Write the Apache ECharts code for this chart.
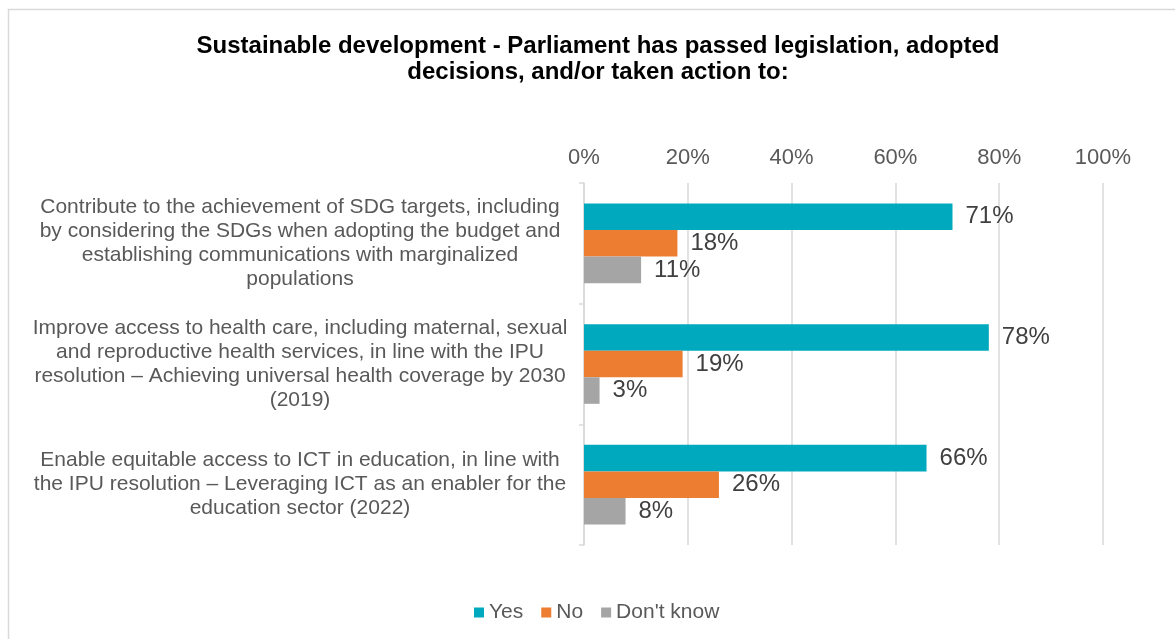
<!DOCTYPE html>
<html>
<head>
<meta charset="utf-8">
<style>
  html, body { margin: 0; padding: 0; background: #ffffff; }
  #chart { width: 1175px; height: 639px; }
</style>
<script src="https://cdn.jsdelivr.net/npm/echarts@6/dist/echarts.min.js"></script>
</head>
<body>
<div id="chart"></div>
<script>
// Survey questions (top to bottom)
const categories = [
  'Contribute to the achievement of SDG targets, including\nby considering the SDGs when adopting the budget and\nestablishing communications with marginalized\npopulations',
  'Improve access to health care, including maternal, sexual\nand reproductive health services, in line with the IPU\nresolution \u2013 Achieving universal health coverage by 2030\n(2019)',
  'Enable equitable access to ICT in education, in line with\nthe IPU resolution \u2013 Leveraging ICT as an enabler for the\neducation sector (2022)'
];

// Share of parliaments answering, in percent
const yesValues = [71, 78, 66];
const noValues = [18, 19, 26];
const dontKnowValues = [11, 3, 8];

const seriesNames = ['Yes', 'No', "Don't know"];
const seriesColors = ['#00a9bd', '#ed7d31', '#a5a5a5'];

const FONT = 'Liberation Sans, Arial, sans-serif';

const chart = echarts.init(document.getElementById('chart'));

const valueLabel = {
  show: true,
  position: 'right',
  distance: 13,
  formatter: p => p.value + '%',
  color: '#404040',
  fontSize: 24,
  fontFamily: FONT
};

function makeSeries(name, values, color) {
  return {
    name: name,
    type: 'bar',
    data: values,
    barGap: '0%',
    barCategoryGap: '34%',
    itemStyle: { color: color },
    label: valueLabel,
    emphasis: { disabled: true }
  };
}

chart.setOption({
  animation: false,
  textStyle: { fontFamily: FONT },
  title: {
    text: 'Sustainable development - Parliament has passed legislation, adopted\ndecisions, and/or taken action to:',
    left: 593,
    top: 28,
    textAlign: 'center',
    textStyle: {
      fontSize: 24,
      fontWeight: 'bold',
      color: '#000000',
      lineHeight: 26,
      fontFamily: FONT
    }
  },
  legend: {
    data: seriesNames,
    bottom: 11,
    left: 469,
    itemWidth: 10,
    itemHeight: 10,
    itemGap: 18,
    icon: 'rect',
    textStyle: {
      color: '#595959',
      fontSize: 21,
      fontFamily: FONT
    }
  },
  grid: {
    left: 584,
    right: 72,
    top: 183,
    bottom: 94,
    containLabel: false
  },
  xAxis: {
    type: 'value',
    position: 'top',
    min: 0,
    max: 100,
    interval: 20,
    axisLine: { show: false },
    axisTick: { show: false },
    axisLabel: {
      formatter: '{value}%',
      color: '#595959',
      fontSize: 22,
      margin: 14
    },
    splitLine: { lineStyle: { color: '#d9d9d9', width: 1.5 } }
  },
  yAxis: {
    type: 'category',
    data: categories,
    inverse: true,
    axisLine: { lineStyle: { color: '#d9d9d9', width: 1.5 } },
    axisTick: { show: true, length: 5, lineStyle: { color: '#d9d9d9', width: 1.5 } },
    axisLabel: {
      align: 'center',
      margin: 284,
      color: '#595959',
      fontSize: 21,
      lineHeight: 24
    }
  },
  series: [
    makeSeries(seriesNames[0], yesValues, seriesColors[0]),
    makeSeries(seriesNames[1], noValues, seriesColors[1]),
    makeSeries(seriesNames[2], dontKnowValues, seriesColors[2])
  ],
  graphic: [{
    type: 'rect',
    shape: { x: 8.5, y: 9.5, width: 1300, height: 800 },
    style: { fill: 'none', stroke: '#d9d9d9', lineWidth: 1.5 },
    silent: true,
    z: -1
  }]
});
</script>
</body>
</html>
